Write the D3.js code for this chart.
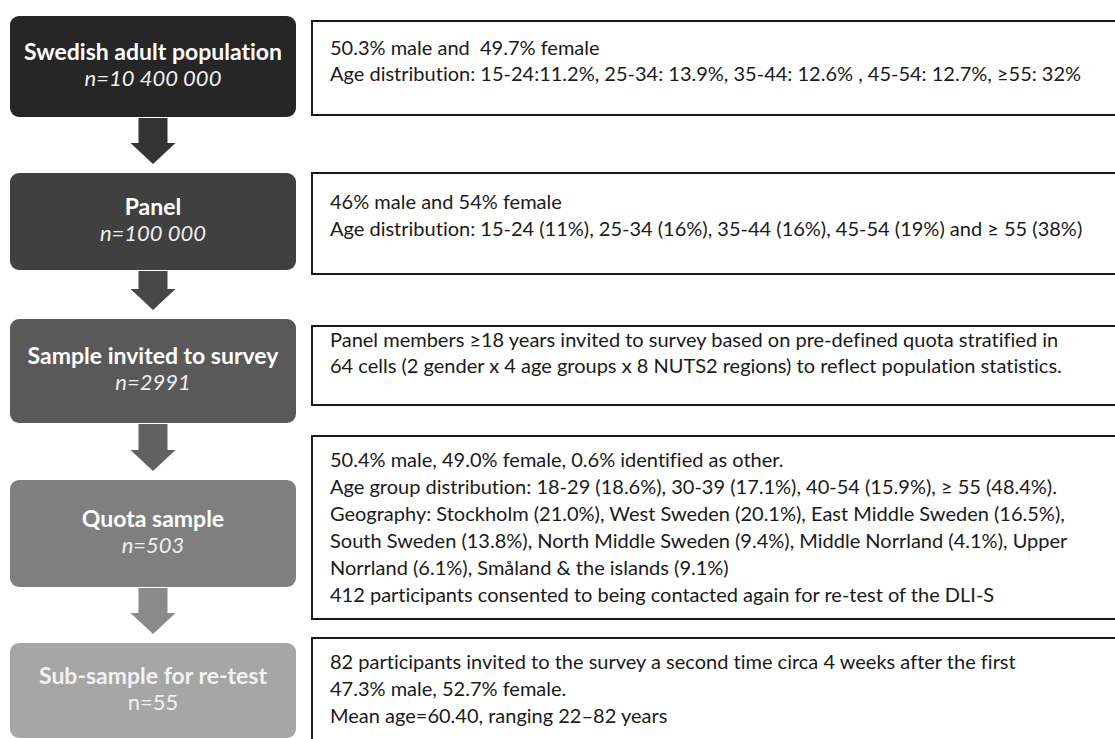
<!DOCTYPE html>
<html><head><meta charset="utf-8">
<script src="https://cdn.jsdelivr.net/npm/d3@7"></script>
<style>html,body{margin:0;padding:0;background:#fff;overflow:hidden} text{white-space:pre;font-variant-ligatures:none;font-feature-settings:"liga" 0}</style>
</head><body>
<svg id="c" width="1115" height="739"></svg>
<script>
// ---- data ----
const stageTitles = ["Swedish adult population","Panel","Sample invited to survey","Quota sample","Sub-sample for re-test"];
const stageCounts = ["n=10 400 000","n=100 000","n=2991","n=503","n=55"];
const countItalic = [true,true,true,true,false];
const stageFills = ["#262626","#404040","#595959","#7f7f7f","#a6a6a6"];
const arrowFills = ["#333333","#474747","#616161","#8a8a8a"];
const detail1 = ["50.3% male and  49.7% female","Age distribution: 15-24:11.2%, 25-34: 13.9%, 35-44: 12.6% , 45-54: 12.7%, \u226555: 32%"];
const detail2 = ["46% male and 54% female","Age distribution: 15-24 (11%), 25-34 (16%), 35-44 (16%), 45-54 (19%) and \u2265 55 (38%)"];
const detail3 = ["Panel members \u226518 years invited to survey based on pre-defined quota stratified in","64 cells (2 gender x 4 age groups x 8 NUTS2 regions) to reflect population statistics."];
const detail4 = ["50.4% male, 49.0% female, 0.6% identified as other.","Age group distribution: 18-29 (18.6%), 30-39 (17.1%), 40-54 (15.9%), \u2265 55 (48.4%).","Geography: Stockholm (21.0%), West Sweden (20.1%), East Middle Sweden (16.5%),","South Sweden (13.8%), North Middle Sweden (9.4%), Middle Norrland (4.1%), Upper","Norrland (6.1%), Sm\u00e5land & the islands (9.1%)","412 participants consented to being contacted again for re-test of the DLI-S"];
const detail5 = ["82 participants invited to the survey a second time circa 4 weeks after the first","47.3% male, 52.7% female.","Mean age=60.40, ranging 22\u201382 years"];
const details = [detail1,detail2,detail3,detail4,detail5];

// ---- layout ----
const leftTop = [16,173,319,480,643], leftBot = [117,270,423,587,738];
const rightTop = [21,173,326,436,638], rightBot = [115,274,405,619,760];
const firstBase = [55,209,347,467,669];
const lineH = [26,27,26,27,27];
const x = d3.scaleLinear().domain([0,1]).range([10,296]);
const cx = (x(0)+x(1))/2;
const font = "Lato, 'Open Sans', sans-serif";
const svg = d3.select("#c");

// left boxes
const g = svg.selectAll("g.stage").data(stageTitles).join("g").attr("class","stage");
g.append("rect").attr("x",x(0)).attr("width",x(1)-x(0))
 .attr("y",(d,i)=>leftTop[i]).attr("height",(d,i)=>leftBot[i]-leftTop[i])
 .attr("rx",9).attr("fill",(d,i)=>stageFills[i]);
g.append("text").attr("x",cx).attr("y",(d,i)=>(leftTop[i]+leftBot[i])/2-7)
 .attr("text-anchor","middle").attr("font-family",font).attr("font-weight","bold")
 .attr("font-size",23).attr("fill",(d,i)=>i===4?"#f2f2f2":"#ffffff").text(d=>d);
g.append("text").attr("x",cx).attr("y",(d,i)=>(leftTop[i]+leftBot[i])/2+19)
 .attr("text-anchor","middle").attr("font-family",font)
 .attr("font-style",(d,i)=>countItalic[i]?"italic":"normal")
 .attr("font-size",22).attr("fill",(d,i)=>i===4?"#f2f2f2":"#eeeeee").text((d,i)=>stageCounts[i]);

// arrows
const sw = 14.5, hw = 22.5, hh = 21;
arrowFills.forEach((c,i)=>{
  const y0 = leftBot[i]+1, y1 = leftTop[i+1]-9;
  const yh = y1-hh;
  const p = d3.path();
  p.moveTo(cx-sw,y0); p.lineTo(cx+sw,y0); p.lineTo(cx+sw,yh); p.lineTo(cx+hw,yh);
  p.lineTo(cx,y1); p.lineTo(cx-hw,yh); p.lineTo(cx-sw,yh); p.closePath();
  svg.append("path").attr("d",p.toString()).attr("fill",c);
});

// right boxes
const r = svg.selectAll("g.detail").data(details).join("g").attr("class","detail");
r.append("rect").attr("x",312).attr("width",830)
 .attr("y",(d,i)=>rightTop[i]).attr("height",(d,i)=>rightBot[i]-rightTop[i])
 .attr("fill","#fff").attr("stroke","#1a1a1a").attr("stroke-width",2);
r.each(function(lines,i){
  d3.select(this).selectAll("text").data(lines).join("text")
   .attr("x",330).attr("y",(d,j)=>firstBase[i]+j*lineH[i])
   .attr("font-family",font).attr("font-size",20).attr("fill","#1a1a1a")
   .text(d=>d);
});
</script>
</body></html>
